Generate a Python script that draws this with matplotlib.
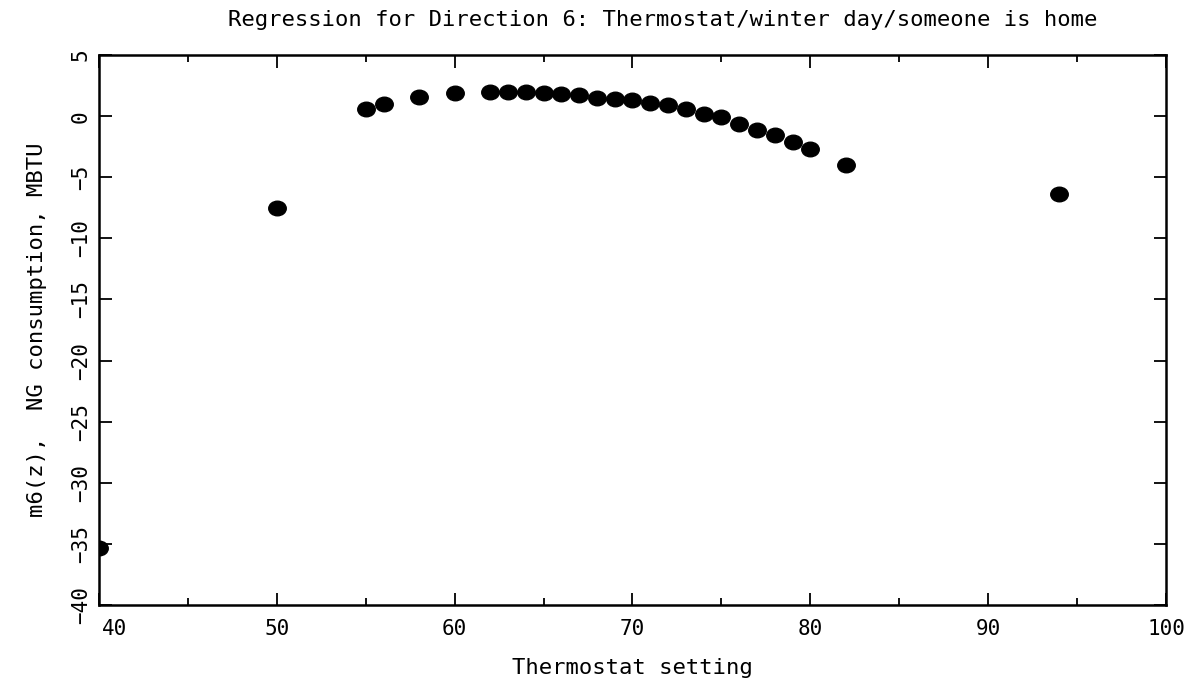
import matplotlib
matplotlib.use("Agg")
import matplotlib.pyplot as plt
from matplotlib.markers import MarkerStyle
from matplotlib.transforms import Affine2D, offset_copy
from matplotlib.ticker import MultipleLocator, FuncFormatter

# thermostat setting vs regression value
thermostat = [40, 50, 55, 56, 58, 60, 62, 63, 64, 65, 66, 67, 68, 69, 70,
              71, 72, 73, 74, 75, 76, 77, 78, 79, 80, 82, 94]
m6 = [-35.3, -7.5, 0.6, 1.0, 1.6, 1.9, 2.0, 2.0, 2.0, 1.9, 1.85, 1.7, 1.5, 1.4, 1.3,
      1.1, 0.9, 0.6, 0.2, -0.1, -0.6, -1.1, -1.5, -2.1, -2.7, -4.0, -6.4]
x_min, x_max = 40, 100

plt.rcParams['font.family'] = ['DejaVu Sans Mono']

fig = plt.figure(figsize=(12.02, 6.81), dpi=100)
ax = fig.add_axes([0.0824, 0.1116, 0.8876, 0.8075])

# slightly wide dots, like the original plotter output
dot = MarkerStyle('o', transform=Affine2D().scale(1.2, 1.0))
ax.plot(thermostat, m6, linestyle='none', marker=dot, color='black', markersize=10.5)

ax.set_xlim(x_min, x_max)
ax.set_ylim(-40, 5)
ax.xaxis.set_major_locator(MultipleLocator(10))
ax.xaxis.set_minor_locator(MultipleLocator(5))
ax.yaxis.set_major_locator(MultipleLocator(5))
# first x label is drawn separately, left-aligned at the axis edge
ax.xaxis.set_major_formatter(FuncFormatter(lambda v, p: '' if v == x_min else f'{v:g}'))

ax.tick_params(axis='both', which='both', direction='in', top=True, right=True,
               color='black', width=1.3)
ax.tick_params(axis='both', which='major', length=9, labelsize=15)
ax.tick_params(axis='x', which='minor', length=5)
ax.tick_params(axis='x', which='major', pad=10)
ax.tick_params(axis='y', which='major', pad=6)
plt.setp(ax.get_yticklabels(), rotation=90, va='center')

ax.text(x_min, 0, f'{x_min}', fontsize=15, ha='left', va='top',
        transform=offset_copy(ax.get_xaxis_transform(), fig=fig, x=2, y=-10, units='points'))

for sp in ax.spines.values():
    sp.set_linewidth(1.8)

ax.set_xlabel('Thermostat setting', fontsize=16, labelpad=14)
ax.set_ylabel('m6(z),  NG consumption, MBTU', fontsize=16, labelpad=17)
fig.text(0.551, 0.970, 'Regression for Direction 6: Thermostat/winter day/someone is home',
         fontsize=16, ha='center', va='center')

fig.savefig('out.png', dpi=100)
